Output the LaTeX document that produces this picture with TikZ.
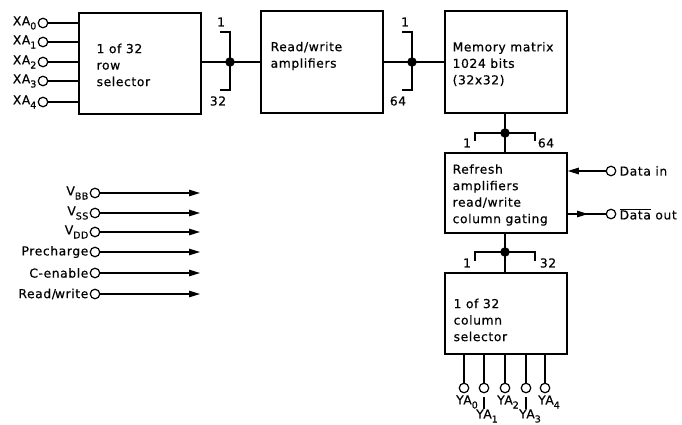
\documentclass[tikz,border=0pt]{standalone}
\usepackage{fontspec}
\setmainfont{DejaVu Sans}[LetterSpace=5,FakeBold=0.5]
\usetikzlibrary{arrows.meta}
\newcommand\sbs[1]{\raisebox{-0.6ex}{\fontsize{9.5}{9.5}\selectfont #1}}
\begin{document}
\begin{tikzpicture}[x=1pt,y=-1pt,
  font=\fontsize{12.3}{16.5}\selectfont, line width=1.3pt,
  box/.style={draw, line width=1.8pt, inner sep=0pt, anchor=north west},
  lbl/.style={inner sep=0pt, align=left},
  pinc/.style={circle, draw, minimum size=9.5pt, inner sep=0pt, line width=1.2pt},
  dotn/.style={circle, fill, minimum size=9.5pt, inner sep=0pt},
  arr/.style={-{Triangle[length=11pt,width=6.5pt]}}]
\useasboundingbox (0,0) rectangle (682,425);

% boxes
\node[box, minimum width=122pt, minimum height=101pt] (b1) at (78,12) {};
\node[box, minimum width=122pt, minimum height=102pt] (b2) at (260,10) {};
\node[box, minimum width=122pt, minimum height=102pt] (b3) at (444,10) {};
\node[box, minimum width=122pt, minimum height=80pt] (b4) at (444,152) {};
\node[box, minimum width=122pt, minimum height=81pt] (b5) at (444,272) {};

% box texts
\node[lbl, anchor=west] (b1t) at (96,65) {1 of 32\\row\\selector};
\node[lbl, anchor=west] (b2t) at (270,56) {Read/write\\amplifiers};
\node[lbl, anchor=west] (b3t) at (452,64) {Memory matrix\\1024 bits\\(32x32)};
\node[lbl, anchor=west] (b4t) at (452,195) {Refresh\\amplifiers\\read/write\\column gating};
\node[lbl, anchor=west] (b5t) at (453,320) {1 of 32\\column\\selector};

% XA inputs
\foreach \i/\y in {0/23,1/42,2/62,3/81,4/102}{
  \node[pinc] (xa\i) at (43,\y) {};
  \node[lbl, anchor=east] (xal\i) at (37,\y) {XA\sbs{\i}};
  \draw (xa\i) -- (b1.west |- xa\i);
}

% bus 1
\node[dotn] (d1) at (230,62) {};
\draw (b1.east |- d1) -- (b2.west |- d1);
\coordinate (k1a) at (220,32); \coordinate (k1b) at (230,32);
\coordinate (k1c) at (230,90); \coordinate (k1d) at (220,90);
\draw (k1a) -- (k1b) -- (k1c) -- (k1d);
\node[lbl] (n1a) at (221,22) {1};
\node[lbl] (n1b) at (218,101) {32};

% bus 2
\node[dotn] (d2) at (412,62) {};
\draw (b2.east |- d2) -- (b3.west |- d2);
\coordinate (k2a) at (402,32); \coordinate (k2b) at (412,32);
\coordinate (k2c) at (412,90); \coordinate (k2d) at (402,90);
\draw (k2a) -- (k2b) -- (k2c) -- (k2d);
\node[lbl] (n2a) at (405,22) {1};
\node[lbl] (n2b) at (398,101) {64};

% bus 3
\node[dotn] (d3) at (505,133) {};
\draw (b3.south -| d3) -- (b4.north -| d3);
\coordinate (k3a) at (475,141); \coordinate (k3b) at (475,133);
\coordinate (k3c) at (535,133); \coordinate (k3d) at (535,141);
\draw (k3a) -- (k3b) -- (k3c) -- (k3d);
\node[lbl] (n3a) at (467,143) {1};
\node[lbl] (n3b) at (546,143) {64};

% bus 4
\node[dotn] (d4) at (505,252) {};
\draw (b4.south -| d4) -- (b5.north -| d4);
\coordinate (k4a) at (475,261); \coordinate (k4b) at (475,252);
\coordinate (k4c) at (535,252); \coordinate (k4d) at (535,261);
\draw (k4a) -- (k4b) -- (k4c) -- (k4d);
\node[lbl] (n4a) at (467,263) {1};
\node[lbl] (n4b) at (548,263) {32};

% data in / out
\node[pinc] (cin) at (611,171) {};
\node[lbl, anchor=west] (lin) at (619,171) {Data in};
\draw[arr] (cin) -- (b4.east |- cin);
\node[pinc] (cout) at (611,214) {};
\node[lbl, anchor=west] (lout) at (619,214) {$\overline{\hbox{Data}}$ out};
\coordinate (dtip) at (588,214);
\draw (b4.east |- cout) -- (cout);
\draw[arr] (b4.east |- cout) -- (dtip);

% left control signals
\foreach \n/\t/\y in {1/{V\sbs{BB}}/193, 2/{V\sbs{SS}}/213, 3/{V\sbs{DD}}/232,
                      4/{Precharge}/252, 5/{C-enable}/273, 6/{Read/\kern-1pt write}/294}{
  \node[pinc] (s\n) at (95,\y) {};
  \node[lbl, anchor=east] (sl\n) at (89,\y) {\t};
  \coordinate (se\n) at (200,\y);
  \draw[arr] (s\n) -- (se\n);
}

% column pins
\foreach \i/\x in {0/464,1/484,2/505,3/526,4/545}{
  \node[pinc] (ya\i) at (\x,388) {};
  \draw (b5.south -| ya\i) -- (ya\i);
}
\node[lbl] (yal0) at (467,402) {YA\sbs{0}};
\node[lbl] (yal2) at (508,402) {YA\sbs{2}};
\node[lbl] (yal4) at (549,402) {YA\sbs{4}};
\node[lbl] (yal1) at (487,416) {YA\sbs{1}};
\node[lbl] (yal3) at (530,416) {YA\sbs{3}};
\coordinate (t1a) at (484,397); \coordinate (t1b) at (484,409);
\coordinate (t3a) at (526,397); \coordinate (t3b) at (526,409);
\draw (t1a) -- (t1b);
\draw (t3a) -- (t3b);
\end{tikzpicture}
\end{document}
